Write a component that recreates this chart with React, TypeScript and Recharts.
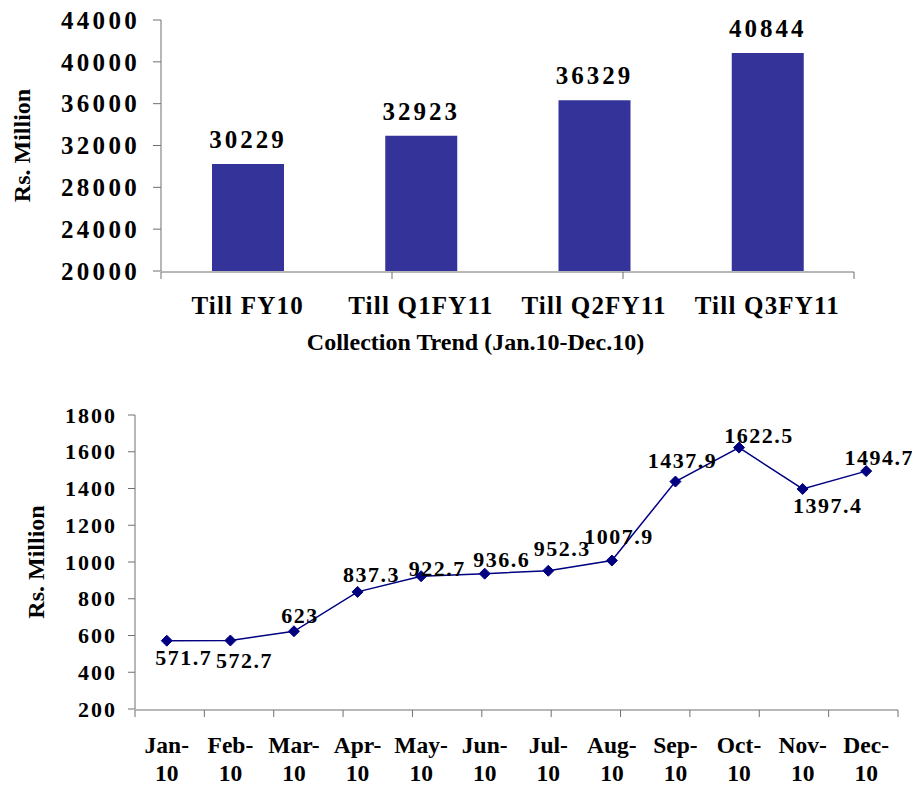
import React from 'react';
import { BarChart, Bar, XAxis, YAxis, LabelList, LineChart, Line, Label } from 'recharts';

const FONT = '"Liberation Serif", "Times New Roman", Times, serif';

// ---- Top chart data ----
const barCategories = ['Till FY10', 'Till Q1FY11', 'Till Q2FY11', 'Till Q3FY11'];
const barValues = [30229, 32923, 36329, 40844];
const barTicks = [20000, 24000, 28000, 32000, 36000, 40000, 44000];
const barBoundaryTicks = [0, 1, 2, 3, 4];

// ---- Bottom chart data ----
const months = ['Jan-10', 'Feb-10', 'Mar-10', 'Apr-10', 'May-10', 'Jun-10', 'Jul-10', 'Aug-10', 'Sep-10', 'Oct-10', 'Nov-10', 'Dec-10'];
const monthlyValues = [571.7, 572.7, 623, 837.3, 922.7, 936.6, 952.3, 1007.9, 1437.9, 1622.5, 1397.4, 1494.7];
const lineTicks = [200, 400, 600, 800, 1000, 1200, 1400, 1600, 1800];
const lineBoundaryTicks = [0, 1, 2, 3, 4, 5, 6, 7, 8, 9, 10, 11, 12];
// relative label nudges (dx, dy of label centre from its point), as dragged in the original
const labelNudges: [number, number][] = [
  [17, 17], [14, 20], [6, -16], [14, -17], [16, -8], [17, -14],
  [14, -22], [7, -24], [7, -21], [20, -12], [25, 17], [13, -14],
];

const barData = barCategories.map((c, i) => ({ category: c, value: barValues[i] }));
const lineData = months.map((m, i) => ({ month: m, value: monthlyValues[i] }));

const AXIS = '#707070';

const textStyle = (fs: number, ls = 0): React.CSSProperties => ({
  fontFamily: FONT,
  fontSize: fs,
  fontWeight: 700,
  letterSpacing: ls,
});

const makeYTick = (fs: number, ls: number) => (props: any) => {
  const { x, y, payload } = props;
  return (
    <text x={x} y={y} dy="0.35em" textAnchor="end" fill="#000" style={textStyle(fs, ls)}>
      {payload.value}
    </text>
  );
};

const BarCatTick = (props: any) => {
  const { x, y, payload } = props;
  return (
    <text x={x} y={y + 43} textAnchor="middle" fill="#000" style={textStyle(25, 1.2)}>
      {payload.value}
    </text>
  );
};

const MonthTick = (props: any) => {
  const { x, y, payload } = props;
  const [a, b] = String(payload.value).split('-');
  return (
    <g>
      <text x={x} y={y + 44} textAnchor="middle" fill="#000" style={textStyle(23.5)}>
        {a + '-'}
      </text>
      <text x={x} y={y + 72} textAnchor="middle" fill="#000" style={textStyle(23.5)}>
        {b}
      </text>
    </g>
  );
};

const EmptyTick = () => <g />;

const YTitle = (cx: number) => (props: any) => {
  const vb = props.viewBox || {};
  const cy = vb.y + vb.height / 2;
  return (
    <text
      transform={`translate(${cx}, ${cy}) rotate(-90)`}
      textAnchor="middle"
      dy="0.34em"
      fill="#000"
      style={textStyle(24)}
    >
      Rs. Million
    </text>
  );
};

const TrendTitle = (props: any) => {
  const vb = props.viewBox || {};
  return (
    <text x={vb.x + vb.width / 2 - 32} y={vb.y + 79} textAnchor="middle" fill="#000" style={textStyle(24)}>
      Collection Trend (Jan.10-Dec.10)
    </text>
  );
};

const BarValueLabel = (props: any) => {
  const { x, y, width, value } = props;
  return (
    <text x={x + width / 2} y={y - 16} textAnchor="middle" fill="#000" style={textStyle(25, 3)}>
      {value}
    </text>
  );
};

const PointLabel = (props: any) => {
  const { x, y, value, index } = props;
  const [dx, dy] = labelNudges[index] || [0, -15];
  return (
    <text x={x + dx} y={y + dy + 7.5} textAnchor="middle" fill="#000" style={textStyle(22, 1.5)}>
      {value}
    </text>
  );
};

const Diamond = (props: any) => {
  const { cx, cy } = props;
  if (cx == null || cy == null) return <g />;
  const r = 5.5;
  return (
    <polygon
      points={`${cx},${cy - r} ${cx + r},${cy} ${cx},${cy + r} ${cx - r},${cy}`}
      fill="#000080"
      stroke="#000080"
      strokeWidth={1}
    />
  );
};

export default function App() {
  return (
    <div style={{ width: 912, background: '#fff' }}>
      <BarChart width={912} height={360} data={barData} margin={{ top: 12, right: 66, bottom: 95, left: 0 }}>
        <XAxis
          xAxisId="grid"
          type="number"
          domain={[0, 4]}
          ticks={barBoundaryTicks}
          allowDataOverflow
          height={1}
          tick={EmptyTick}
          tickSize={7}
          stroke={AXIS}
          interval={0}
        />
        <XAxis
          xAxisId="cat"
          dataKey="category"
          height={1}
          axisLine={false}
          tickLine={false}
          tickSize={0}
          tickMargin={0}
          tick={BarCatTick}
          interval={0}
        >
          <Label content={TrendTitle} />
        </XAxis>
        <YAxis
          width={153}
          domain={[20000, 44000]}
          ticks={barTicks}
          allowDataOverflow
          interval={0}
          tickSize={8}
          tickMargin={13}
          stroke={AXIS}
          tick={makeYTick(25, 3.3)}
        >
          <Label content={YTitle(14)} />
        </YAxis>
        <Bar xAxisId="cat" dataKey="value" fill="#333399" barSize={72} isAnimationActive={false}>
          <LabelList dataKey="value" content={BarValueLabel} />
        </Bar>
      </BarChart>
      <LineChart width={912} height={419} data={lineData} margin={{ top: 47, right: 22, bottom: 76, left: 0 }}>
        <XAxis
          xAxisId="grid"
          type="number"
          domain={[0, 12]}
          ticks={lineBoundaryTicks}
          allowDataOverflow
          height={1}
          tick={EmptyTick}
          tickSize={7}
          stroke={AXIS}
          interval={0}
        />
        <XAxis
          xAxisId="cat"
          dataKey="month"
          scale="band"
          height={1}
          axisLine={false}
          tickLine={false}
          tickSize={0}
          tickMargin={0}
          tick={MonthTick}
          interval={0}
        />
        <YAxis
          width={127}
          domain={[200, 1800]}
          ticks={lineTicks}
          allowDataOverflow
          interval={0}
          tickSize={7}
          tickMargin={11}
          stroke={AXIS}
          tick={makeYTick(22, 2)}
        >
          <Label content={YTitle(28)} />
        </YAxis>
        <Line
          xAxisId="cat"
          dataKey="value"
          stroke="#000080"
          strokeWidth={1.5}
          dot={Diamond}
          activeDot={false}
          isAnimationActive={false}
        >
          <LabelList dataKey="value" content={PointLabel} />
        </Line>
      </LineChart>
    </div>
  );
}
